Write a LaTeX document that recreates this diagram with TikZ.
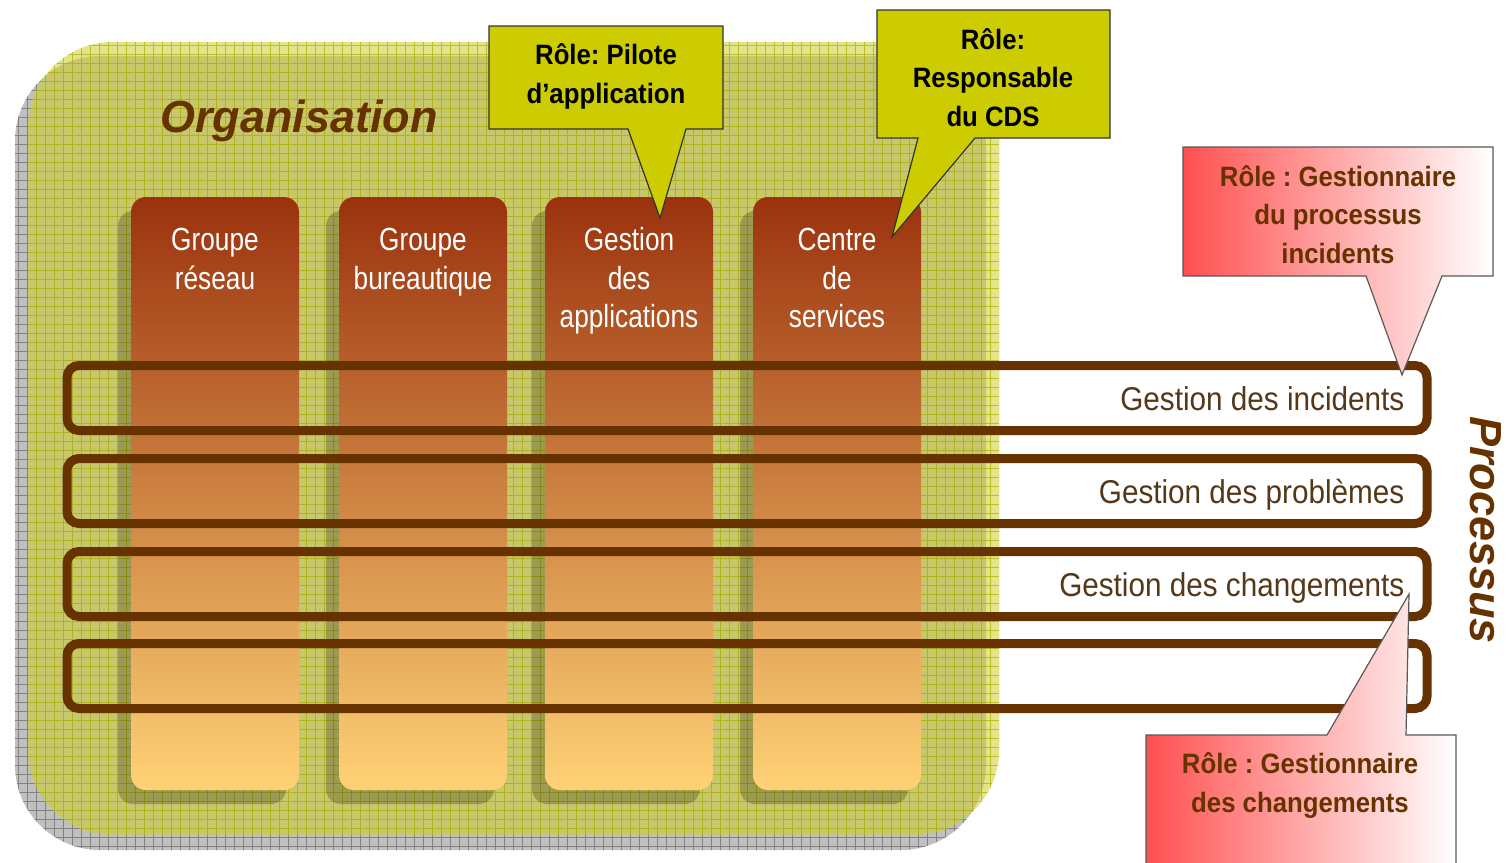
\documentclass[tikz,border=0pt]{standalone}
\usepackage{fontspec}
\setmainfont{Liberation Sans}
\newfontfamily\narrowsans[FakeStretch=0.82]{Liberation Sans}
\newfontfamily\labelsans[FakeStretch=0.9]{Liberation Sans}
\newfontfamily\rolesans[FakeStretch=0.92]{Liberation Sans}
\frenchspacing

\definecolor{panelyellow}{RGB}{205,205,40}
\definecolor{gridolive}{RGB}{180,180,20}
\definecolor{shadowgray}{RGB}{192,192,192}
\definecolor{gridgray}{RGB}{130,130,130}
\definecolor{coltop}{RGB}{155,50,14}
\definecolor{colmid}{RGB}{218,148,82}
\definecolor{colbot}{RGB}{255,210,118}
\definecolor{barbrown}{RGB}{102,51,0}
\definecolor{labeltext}{RGB}{85,55,25}
\definecolor{calloutyellow}{RGB}{204,204,0}
\definecolor{calloutred}{RGB}{255,80,80}

\tikzset{
  colbox/.style={shade, top color=coltop, middle color=colmid, bottom color=colbot,
    rounded corners=15pt, minimum width=168pt, minimum height=593pt, inner sep=0pt},
  colshadow/.style={fill=black, opacity=0.22, rounded corners=15pt},
  coltext/.style={anchor=base, align=center, text=white, inner sep=0pt,
    font=\narrowsans\fontsize{32}{38.5}\selectfont},
  procbar/.style={draw=barbrown, line width=9pt, rounded corners=12pt,
    minimum width=1360pt, minimum height=65pt, inner sep=0pt},
  barlabel/.style={anchor=base east, text=labeltext, inner sep=0pt,
    font=\labelsans\fontsize{33}{38}\selectfont},
  yellowcallout/.style={fill=calloutyellow, draw=black!80, line width=1.2pt, line join=miter},
  redcallout/.style={left color=calloutred, right color=white, draw=black!65, line width=1.2pt},
  roletext/.style={anchor=base, align=center, inner sep=0pt,
    font=\rolesans\bfseries\fontsize{28}{38.5}\selectfont},
  bigtitle/.style={text=barbrown, inner sep=0pt,
    font=\bfseries\itshape\fontsize{45}{50}\selectfont}
}

\begin{document}
\begin{tikzpicture}[x=1pt,y=-1pt]
\useasboundingbox (0,0) rectangle (1507,862);
\clip (0,0) rectangle (1507,862);

% gridded shadow of the organisation panel
\begin{scope}
  \clip[rounded corners=85pt] (15,56) rectangle (986,850);
  \fill[shadowgray] (0,0) rectangle (1010,862);
  \draw[gridgray, line width=0.8pt, step=9pt] (0,0) grid (1010,862);
\end{scope}

% organisation panel
\begin{scope}
  \clip[rounded corners=85pt] (28,42) rectangle (999,835);
  \fill[panelyellow, opacity=0.55] (0,0) rectangle (1010,862);
  \draw[gridolive, line width=0.8pt, opacity=0.8, step=9pt] (0,0) grid (1010,862);
\end{scope}

% organisation columns
\foreach \cx/\nm in {215/col1, 423/col2, 629/col3, 837/col4}{
  \fill[colshadow] (\cx-97,211) rectangle (\cx+71,804);
  \node[colbox] (\nm) at (\cx,493.5) {};
}
% multi-line nodes sit on the baseline of their last line
\node[coltext] (t1) at ([yshift=-92.5pt]col1.north) {Groupe\\réseau};
\node[coltext] (t2) at ([yshift=-92.5pt]col2.north) {Groupe\\bureautique};
\node[coltext] (t3) at ([yshift=-131pt]col3.north) {Gestion\\des\\applications};
\node[coltext] (t4) at ([yshift=-131pt]col4.north) {Centre\\de\\services};

% process bars
\node[procbar] (bar1) at (747,398) {};
\node[procbar] (bar2) at (747,491) {};
\node[procbar] (bar3) at (747,584) {};
\node[procbar] (bar4) at (747,676) {};
\node[barlabel] (l1) at ([xshift=-27pt,yshift=-12pt]bar1.east) {Gestion des incidents};
\node[barlabel] (l2) at ([xshift=-27pt,yshift=-12pt]bar2.east) {Gestion des problèmes};
\node[barlabel] (l3) at ([xshift=-27pt,yshift=-12pt]bar3.east) {Gestion des changements};

% titles
\node[bigtitle, anchor=base west] (org) at (160,132) {Organisation};
\node[bigtitle, rotate=-90] (proc) at (1486,530) {Processus};

% role callouts
\coordinate (tip1) at (660,218);
\coordinate (tip2) at (892,237);
\coordinate (tip3) at (1402,375);
\coordinate (tip4) at (1409,594);

\draw[yellowcallout] (489,26) -- (723,26) -- (723,129) -- (686,129) -- (tip1)
  -- (628,129) -- (489,129) -- cycle;
\node[roletext] (r1) at (606,103) {Rôle: Pilote\\d’application};

\draw[yellowcallout] (877,10) -- (1110,10) -- (1110,138) -- (975,138) -- (tip2)
  -- (918,138) -- (877,138) -- cycle;
\node[roletext] (r2) at (993,126) {Rôle:\\Responsable\\du CDS};

\draw[redcallout] (1183,147) -- (1493,147) -- (1493,276) -- (1442,276) -- (tip3)
  -- (1366,276) -- (1183,276) -- cycle;
\node[roletext, text=barbrown] (r3) at (1338,263) {Rôle : Gestionnaire\\du processus\\incidents};

\draw[redcallout] (1146,735) -- (1327,735) -- (tip4) -- (1406,735) -- (1456,735)
  -- (1456,900) -- (1146,900) -- cycle;
\node[roletext, text=barbrown] (r4) at (1300,812) {Rôle : Gestionnaire\\des changements};
\end{tikzpicture}
\end{document}
